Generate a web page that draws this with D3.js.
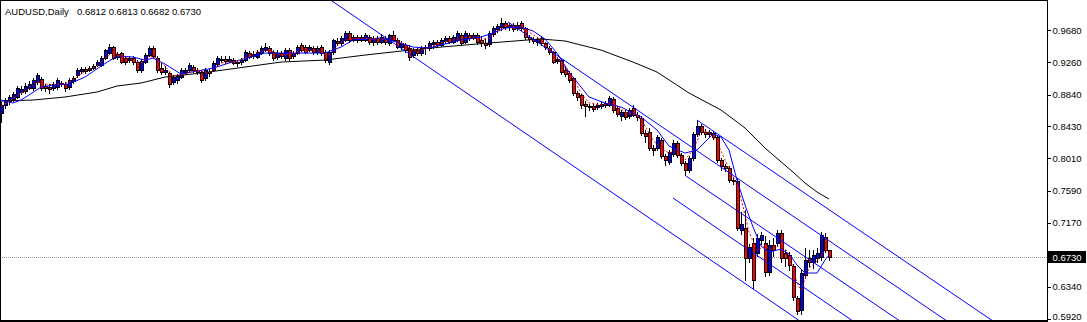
<!DOCTYPE html>
<html>
<head>
<meta charset="utf-8">
<script src="https://cdn.jsdelivr.net/npm/d3@7"></script>
<style>
  html, body { margin: 0; padding: 0; background: #fff; overflow: hidden; }
  svg { display: block; }
  text { font-family: "Liberation Sans", Arial, sans-serif; }
</style>
</head>
<body>
<svg id="chart" width="1087" height="322"></svg>
<script>
// AUDUSD daily candles (oldest first)
var symbol = "AUDUSD,Daily";

var opens = [
  0.8600,0.8704,0.8756,0.8782,0.8808,0.8873,0.8886,0.8925,0.8925,0.9003,
  0.9042,0.8951,0.8938,0.8925,0.8938,0.8990,0.8977,0.8938,0.9016,0.9094,
  0.9146,0.9172,0.9159,0.9185,0.9224,0.9224,0.9315,0.9380,0.9458,0.9367,
  0.9380,0.9315,0.9289,0.9315,0.9263,0.9159,0.9263,0.9354,0.9445,0.9315,
  0.9185,0.9133,0.9120,0.9003,0.9029,0.9068,0.9133,0.9159,0.9198,0.9159,
  0.9133,0.9055,0.9133,0.9159,0.9237,0.9289,0.9302,0.9276,0.9289,0.9250,
  0.9263,0.9289,0.9380,0.9341,0.9328,0.9380,0.9419,0.9445,0.9393,0.9328,
  0.9380,0.9315,0.9419,0.9341,0.9380,0.9485,0.9458,0.9419,0.9445,0.9393,
  0.9458,0.9393,0.9263,0.9393,0.9537,0.9511,0.9550,0.9641,0.9550,0.9589,
  0.9550,0.9550,0.9589,0.9524,0.9576,0.9524,0.9576,0.9511,0.9615,0.9550,
  0.9458,0.9485,0.9445,0.9354,0.9419,0.9380,0.9445,0.9445,0.9498,0.9524,
  0.9485,0.9537,0.9576,0.9524,0.9550,0.9615,0.9524,0.9615,0.9576,0.9615,
  0.9550,0.9511,0.9498,0.9628,0.9693,0.9719,0.9771,0.9719,0.9745,0.9706,
  0.9771,0.9706,0.9589,0.9563,0.9524,0.9576,0.9511,0.9445,0.9393,0.9276,
  0.9289,0.9159,0.9120,0.9055,0.8860,0.8834,0.8717,0.8691,0.8691,0.8678,
  0.8691,0.8704,0.8704,0.8782,0.8665,0.8561,0.8613,0.8561,0.8665,0.8574,
  0.8535,0.8340,0.8353,0.8144,0.8144,0.8248,0.8040,0.7962,0.8066,0.8209,
  0.8053,0.7949,0.7858,0.8014,0.8327,0.8431,0.8353,0.8327,0.8340,0.8287,
  0.7988,0.7910,0.7884,0.7728,0.7715,0.7077,0.7103,0.6713,0.6908,0.6778,
  0.6947,0.6908,0.6531,0.6882,0.6908,0.7038,0.6778,0.6752,0.6609,0.6193,
  0.6037,0.6492,0.6713,0.6661,0.6713,0.6726,0.6986,0.6812
];
var highs = [
  0.8743,0.8795,0.8834,0.8873,0.8951,0.8951,0.8990,0.9016,0.9055,0.9120,
  0.9068,0.8977,0.8977,0.9003,0.9055,0.9016,0.9003,0.9055,0.9081,0.9185,
  0.9198,0.9198,0.9211,0.9237,0.9289,0.9341,0.9432,0.9498,0.9471,0.9393,
  0.9393,0.9341,0.9341,0.9341,0.9289,0.9302,0.9380,0.9471,0.9471,0.9341,
  0.9263,0.9211,0.9133,0.9094,0.9107,0.9185,0.9185,0.9250,0.9224,0.9185,
  0.9159,0.9185,0.9172,0.9276,0.9341,0.9341,0.9341,0.9341,0.9315,0.9289,
  0.9315,0.9419,0.9406,0.9406,0.9419,0.9471,0.9511,0.9471,0.9419,0.9419,
  0.9406,0.9445,0.9445,0.9406,0.9485,0.9511,0.9485,0.9485,0.9471,0.9471,
  0.9485,0.9419,0.9419,0.9563,0.9576,0.9602,0.9667,0.9667,0.9615,0.9615,
  0.9615,0.9641,0.9615,0.9602,0.9602,0.9628,0.9602,0.9628,0.9667,0.9576,
  0.9537,0.9511,0.9485,0.9445,0.9445,0.9471,0.9485,0.9537,0.9550,0.9550,
  0.9576,0.9602,0.9602,0.9615,0.9667,0.9641,0.9667,0.9641,0.9641,0.9641,
  0.9602,0.9576,0.9667,0.9732,0.9758,0.9836,0.9797,0.9771,0.9771,0.9784,
  0.9797,0.9719,0.9615,0.9589,0.9589,0.9602,0.9524,0.9471,0.9406,0.9328,
  0.9302,0.9198,0.9146,0.9068,0.8886,0.8847,0.8756,0.8717,0.8717,0.8730,
  0.8743,0.8756,0.8821,0.8808,0.8691,0.8639,0.8639,0.8665,0.8704,0.8613,
  0.8561,0.8379,0.8405,0.8183,0.8314,0.8274,0.8066,0.8118,0.8248,0.8235,
  0.8079,0.7975,0.8040,0.8353,0.8509,0.8457,0.8392,0.8379,0.8366,0.8314,
  0.8014,0.7936,0.7910,0.7767,0.7754,0.7312,0.7338,0.6895,0.6973,0.7025,
  0.7051,0.6999,0.6947,0.6973,0.7077,0.7077,0.6817,0.6791,0.6635,0.6219,
  0.6557,0.6843,0.6817,0.6817,0.6843,0.7051,0.7038,0.6813
];
var lows = [
  0.8483,0.8665,0.8717,0.8756,0.8795,0.8847,0.8860,0.8912,0.8899,0.8977,
  0.8899,0.8886,0.8860,0.8899,0.8912,0.8951,0.8886,0.8912,0.8990,0.9068,
  0.9120,0.9120,0.9146,0.9172,0.9211,0.9211,0.9302,0.9367,0.9302,0.9302,
  0.9250,0.9237,0.9263,0.9237,0.9133,0.9133,0.9250,0.9341,0.9315,0.9133,
  0.9107,0.9107,0.8938,0.8977,0.8990,0.9055,0.9107,0.9133,0.9133,0.9107,
  0.9003,0.9029,0.9081,0.9146,0.9211,0.9263,0.9250,0.9263,0.9237,0.9211,
  0.9237,0.9276,0.9315,0.9315,0.9315,0.9367,0.9406,0.9354,0.9289,0.9302,
  0.9315,0.9289,0.9289,0.9315,0.9367,0.9406,0.9380,0.9406,0.9367,0.9367,
  0.9354,0.9263,0.9237,0.9367,0.9485,0.9485,0.9537,0.9524,0.9537,0.9524,
  0.9537,0.9537,0.9498,0.9485,0.9498,0.9511,0.9498,0.9485,0.9537,0.9445,
  0.9432,0.9393,0.9289,0.9328,0.9354,0.9354,0.9367,0.9419,0.9445,0.9471,
  0.9471,0.9511,0.9511,0.9511,0.9537,0.9485,0.9511,0.9550,0.9563,0.9498,
  0.9471,0.9445,0.9471,0.9602,0.9654,0.9680,0.9693,0.9680,0.9667,0.9680,
  0.9680,0.9563,0.9524,0.9511,0.9485,0.9485,0.9432,0.9367,0.9250,0.9250,
  0.9107,0.9081,0.9003,0.8834,0.8769,0.8665,0.8561,0.8639,0.8626,0.8652,
  0.8665,0.8678,0.8691,0.8613,0.8561,0.8509,0.8522,0.8535,0.8561,0.8509,
  0.8314,0.8222,0.8118,0.8053,0.8118,0.8014,0.7923,0.7936,0.8040,0.8027,
  0.7923,0.7793,0.7832,0.7988,0.8301,0.8327,0.8287,0.8301,0.8261,0.7962,
  0.7858,0.7845,0.7702,0.7676,0.7077,0.7025,0.6427,0.6661,0.6323,0.6739,
  0.6895,0.6479,0.6492,0.6739,0.6869,0.6661,0.6609,0.6557,0.6167,0.5985,
  0.5985,0.6453,0.6609,0.6583,0.6661,0.6687,0.6791,0.6682
];
var closes = [
  0.8704,0.8769,0.8808,0.8847,0.8925,0.8912,0.8951,0.8977,0.9029,0.9094,
  0.8925,0.8925,0.8912,0.8977,0.9029,0.8977,0.8925,0.9029,0.9055,0.9159,
  0.9172,0.9146,0.9185,0.9211,0.9263,0.9315,0.9419,0.9458,0.9315,0.9328,
  0.9263,0.9263,0.9315,0.9263,0.9159,0.9276,0.9354,0.9445,0.9341,0.9159,
  0.9133,0.9159,0.8977,0.9068,0.9081,0.9159,0.9159,0.9224,0.9159,0.9133,
  0.9029,0.9159,0.9120,0.9250,0.9315,0.9302,0.9276,0.9302,0.9250,0.9263,
  0.9289,0.9393,0.9328,0.9367,0.9393,0.9445,0.9458,0.9380,0.9315,0.9380,
  0.9341,0.9419,0.9315,0.9380,0.9458,0.9419,0.9393,0.9458,0.9393,0.9445,
  0.9380,0.9289,0.9393,0.9550,0.9511,0.9576,0.9641,0.9550,0.9589,0.9550,
  0.9589,0.9615,0.9524,0.9576,0.9524,0.9589,0.9524,0.9615,0.9550,0.9458,
  0.9511,0.9419,0.9328,0.9419,0.9380,0.9445,0.9458,0.9511,0.9524,0.9485,
  0.9550,0.9576,0.9524,0.9589,0.9641,0.9511,0.9641,0.9576,0.9615,0.9524,
  0.9511,0.9485,0.9641,0.9706,0.9732,0.9771,0.9719,0.9745,0.9693,0.9745,
  0.9706,0.9589,0.9563,0.9537,0.9563,0.9511,0.9458,0.9393,0.9263,0.9302,
  0.9133,0.9107,0.9029,0.8860,0.8808,0.8704,0.8691,0.8678,0.8652,0.8704,
  0.8717,0.8730,0.8795,0.8639,0.8587,0.8613,0.8548,0.8639,0.8574,0.8548,
  0.8340,0.8301,0.8144,0.8118,0.8287,0.8040,0.7988,0.8092,0.8209,0.8053,
  0.7949,0.7858,0.8014,0.8327,0.8431,0.8353,0.8327,0.8353,0.8287,0.7988,
  0.7910,0.7884,0.7728,0.7715,0.7103,0.7156,0.6713,0.6856,0.6427,0.6973,
  0.7012,0.6531,0.6882,0.6817,0.7038,0.6713,0.6713,0.6622,0.6206,0.6024,
  0.6518,0.6687,0.6661,0.6752,0.6778,0.7012,0.6817,0.6730
];

// moving averages, [bar index, price]
var maFast = [
  [0,0.8691],[4,0.8821],[7,0.8925],[9,0.9003],[11,0.8977],[14,0.8964],[17,0.9003],[19,0.9068],
  [21,0.9146],[24,0.9211],[26,0.9315],[28,0.9393],[30,0.9341],[33,0.9289],[35,0.9250],[37,0.9341],
  [39,0.9315],[41,0.9211],[43,0.9081],[46,0.9107],[49,0.9159],[52,0.9120],[55,0.9250],[59,0.9276],
  [62,0.9341],[65,0.9406],[67,0.9419],[70,0.9354],[73,0.9367],[76,0.9419],[79,0.9419],[82,0.9354],
  [84,0.9471],[86,0.9550],[90,0.9576],[95,0.9563],[98,0.9576],[101,0.9485],[103,0.9406],[106,0.9432],
  [109,0.9498],[113,0.9550],[117,0.9589],[120,0.9550],[122,0.9576],[124,0.9667],[126,0.9732],[129,0.9732],
  [132,0.9654],[135,0.9550],[138,0.9393],[140,0.9263],[143,0.9055],[145,0.8860],[147,0.8730],[150,0.8704],
  [153,0.8730],[156,0.8613],[159,0.8574],[161,0.8431],[163,0.8248],[165,0.8144],[167,0.8079],[169,0.8118],
  [171,0.7988],[173,0.8118],[175,0.8353],[177,0.8353],[179,0.8222],[181,0.7988],[183,0.7780],[185,0.7494],
  [187,0.7051],[189,0.6817],[191,0.6869],[193,0.6817],[195,0.6895],[197,0.6765],[199,0.6388],[200,0.6297],
  [202,0.6583],[204,0.6674],[206,0.6817],[207,0.6791]
];
var maMid = [
  [0,0.8769],[3,0.8730],[5,0.8769],[7,0.8834],[10,0.8938],[13,0.8964],[17,0.8977],[21,0.9068],
  [25,0.9211],[29,0.9341],[33,0.9328],[36,0.9289],[38,0.9315],[41,0.9237],[45,0.9107],[49,0.9146],
  [53,0.9185],[57,0.9250],[66,0.9380],[74,0.9380],[81,0.9380],[85,0.9458],[88,0.9550],[95,0.9576],
  [99,0.9524],[103,0.9458],[107,0.9445],[110,0.9485],[115,0.9550],[120,0.9589],[123,0.9641],[126,0.9706],
  [130,0.9719],[133,0.9667],[136,0.9563],[139,0.9380],[142,0.9133],[145,0.8938],[147,0.8808],[151,0.8730],
  [155,0.8678],[160,0.8548],[164,0.8379],[167,0.8170],[171,0.8079],[174,0.8118],[176,0.8222],[178,0.8327],
  [180,0.8287],[182,0.8118],[183,0.7923],[184,0.7728],[186,0.7403],[188,0.7117],[190,0.6869],[192,0.6791],
  [195,0.6830],[197,0.6765],[199,0.6622],[201,0.6518],[204,0.6518],[206,0.6687],[207,0.6752]
];
var maSlow = [
  [0,0.8756],[8,0.8769],[16,0.8808],[24,0.8873],[29,0.8951],[35,0.8990],[41,0.9068],[50,0.9120],
  [61,0.9198],[70,0.9263],[81,0.9289],[91,0.9354],[100,0.9406],[110,0.9458],[122,0.9511],[135,0.9563],
  [141,0.9537],[150,0.9419],[158,0.9263],[164,0.9133],[172,0.8860],[180,0.8639],[186,0.8405],[191,0.8144],
  [198,0.7832],[201,0.7689],[204,0.7572],[207,0.7481]
];

// parallel trend lines drawn on the chart, [[bar, price], [bar, price]]
var channels = [
  [[82, 1.0084], [199.75, 0.5893]],
  [[126.75, 0.9784], [236.5, 0.5893]],
  [[174, 0.8509], [248, 0.5893]],
  [[171.25, 0.7780], [224.75, 0.5893]],
  [[168, 0.7494], [213, 0.5893]]
];

var priceTicks = [0.9680, 0.9260, 0.8840, 0.8430, 0.8010, 0.7590, 0.7170, 0.6340, 0.5920];

var W = 1087, H = 322;
var plotRight = 1047, plotBottom = 321;

var x = d3.scaleLinear().domain([0, closes.length - 1]).range([1, 829]);
var y = d3.scaleLinear().domain([0.5920, 0.9680]).range([319, 30]);
var fmt = d3.format(".4f");

var svg = d3.select("#chart");

svg.append("defs").append("clipPath").attr("id", "plotclip")
  .append("rect").attr("x", 1).attr("y", 1).attr("width", plotRight - 1).attr("height", plotBottom - 2);

var plot = svg.append("g").attr("clip-path", "url(#plotclip)");

// current price line (dotted)
var lastClose = closes[closes.length - 1];
var py = Math.round(y(lastClose)) + 0.5;
plot.append("line")
  .attr("x1", 0).attr("x2", plotRight).attr("y1", py).attr("y2", py)
  .attr("stroke", "#909090").attr("stroke-width", 1).attr("stroke-dasharray", "1,1")
  .attr("shape-rendering", "crispEdges");

// candles
var bars = closes.map(function(c, i) {
  return { i: i, o: opens[i], h: highs[i], l: lows[i], c: c };
});

var candles = plot.append("g").attr("shape-rendering", "crispEdges");

candles.selectAll(".wick")
  .data(bars)
  .enter()
  .append("line")
  .attr("class", "wick")
  .attr("x1", function(d) { return Math.round(x(d.i)) + 0.5; })
  .attr("x2", function(d) { return Math.round(x(d.i)) + 0.5; })
  .attr("y1", function(d) { return Math.round(y(d.h)); })
  .attr("y2", function(d) { return Math.round(y(d.l)) + 1; })
  .attr("stroke", "#000")
  .attr("stroke-width", 1);

function bodyTop(d) { return Math.round(y(Math.max(d.o, d.c))); }
function bodyH(d) { return Math.max(1, Math.round(y(Math.min(d.o, d.c))) - bodyTop(d) + 1); }

candles.selectAll(".body")
  .data(bars)
  .enter()
  .append("rect")
  .attr("class", "body")
  .attr("x", function(d) { return Math.round(x(d.i)) - 1; })
  .attr("width", 4)
  .attr("y", bodyTop)
  .attr("height", bodyH)
  .attr("fill", "#000");

candles.selectAll(".fill")
  .data(bars.filter(function(d) { return bodyH(d) >= 3; }))
  .enter()
  .append("rect")
  .attr("class", "fill")
  .attr("x", function(d) { return Math.round(x(d.i)); })
  .attr("width", 2)
  .attr("y", function(d) { return bodyTop(d) + 1; })
  .attr("height", function(d) { return bodyH(d) - 2; })
  .attr("fill", function(d) { return d.c >= d.o ? "#0000ff" : "#ff0000"; });

// moving averages
var line = d3.line()
  .x(function(d) { return x(d[0]); })
  .y(function(d) { return y(d[1]); });

[[maSlow, "#000000", null], [maMid, "#0000ff", null], [maFast, "#ff0000", "2,2"]].forEach(function(m) {
  plot.append("path")
    .datum(m[0])
    .attr("d", line)
    .attr("fill", "none")
    .attr("stroke", m[1])
    .attr("stroke-dasharray", m[2])
    .attr("stroke-width", 1);
});

// channel lines
plot.selectAll(".channel")
  .data(channels)
  .enter()
  .append("path")
  .attr("class", "channel")
  .attr("d", line)
  .attr("fill", "none")
  .attr("stroke", "#0000ff")
  .attr("stroke-width", 1);

// frame
var frame = svg.append("g").attr("shape-rendering", "crispEdges").attr("stroke", "#000").attr("stroke-width", 1);
frame.append("line").attr("x1", 0.5).attr("x2", 0.5).attr("y1", 0).attr("y2", H);
frame.append("line").attr("x1", 0).attr("x2", plotRight).attr("y1", 0.5).attr("y2", 0.5);
frame.append("line").attr("x1", 0).attr("x2", plotRight).attr("y1", plotBottom - 0.5).attr("y2", plotBottom - 0.5);
frame.append("line").attr("x1", 0).attr("x2", plotRight).attr("y1", plotBottom + 0.5).attr("y2", plotBottom + 0.5);
frame.append("line").attr("x1", plotRight + 0.5).attr("x2", plotRight + 0.5).attr("y1", 0).attr("y2", H);

// price axis
var yAxis = d3.axisRight(y)
  .tickValues(priceTicks)
  .tickSize(3)
  .tickPadding(2)
  .tickFormat(fmt);

var axisG = svg.append("g")
  .attr("transform", "translate(" + (plotRight + 0.5) + ",0)")
  .call(yAxis);
axisG.select(".domain").remove();
axisG.selectAll(".tick line").attr("stroke", "#000").attr("shape-rendering", "crispEdges");
axisG.selectAll(".tick text")
  .attr("fill", "#000")
  .attr("dy", function(d) { return d === priceTicks[priceTicks.length - 1] ? "0.1em" : "0.32em"; })
  .style("font-size", "9.5px")
  .style("font-family", "'Liberation Sans', Arial, sans-serif");

// current price label
svg.append("rect")
  .attr("x", plotRight + 1).attr("y", py - 6.5)
  .attr("width", 38).attr("height", 12)
  .attr("fill", "#000");
svg.append("text")
  .attr("x", plotRight + 5.5).attr("y", py)
  .attr("dy", "0.35em")
  .attr("fill", "#fff")
  .style("font-size", "9.5px")
  .text(fmt(lastClose));

// title with last bar OHLC
var n = closes.length - 1;
svg.append("text")
  .attr("x", 5).attr("y", 15)
  .attr("fill", "#000")
  .style("font-size", "9.5px")
  .text(symbol);
svg.append("text")
  .attr("x", 77).attr("y", 15)
  .attr("fill", "#000")
  .style("font-size", "9.5px")
  .text([opens[n], highs[n], lows[n], closes[n]].map(fmt).join(" "));
</script>
</body>
</html>
